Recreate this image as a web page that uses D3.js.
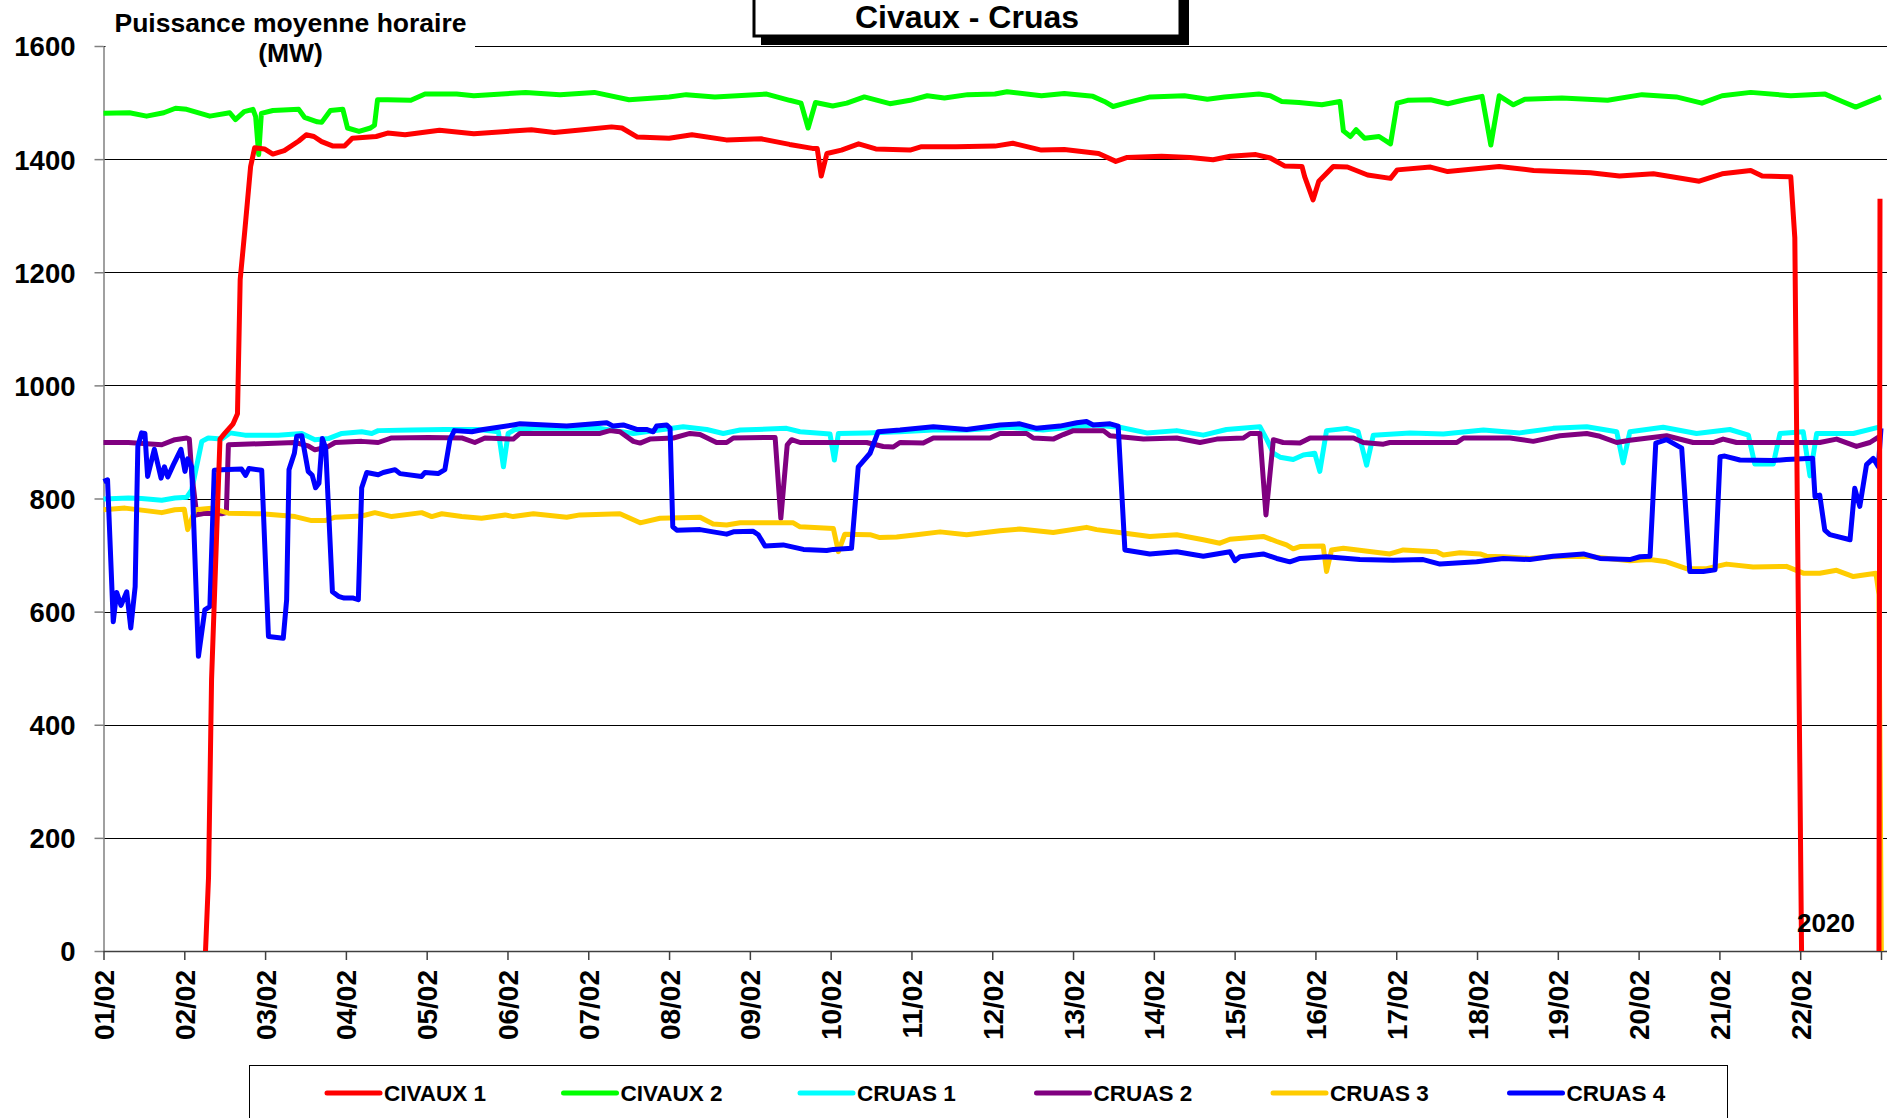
<!DOCTYPE html>
<html>
<head>
<meta charset="utf-8">
<script src="https://cdn.jsdelivr.net/npm/d3@7"></script>
<style>
  html, body { margin: 0; padding: 0; background: #fff; }
  svg { display: block; }
  text { font-family: "Liberation Sans", Arial, Helvetica, sans-serif; font-weight: bold; fill: #000; }
</style>
</head>
<body>
<svg id="chart" width="1887" height="1118"></svg>
<script>
// ---------------- DATA ----------------
const chartTitle = "Civaux - Cruas";
const yTitleLines = ["Puissance moyenne horaire", "(MW)"];
const yearLabel = "2020";
const dayLabels = ["01/02","02/02","03/02","04/02","05/02","06/02","07/02","08/02","09/02","10/02","11/02",
                   "12/02","13/02","14/02","15/02","16/02","17/02","18/02","19/02","20/02","21/02","22/02"];
const yTicks = [0, 200, 400, 600, 800, 1000, 1200, 1400, 1600];
const seriesNames = ["CIVAUX 1", "CIVAUX 2", "CRUAS 1", "CRUAS 2", "CRUAS 3", "CRUAS 4"];
const seriesColors = ["#FF0000", "#00FF00", "#00FFFF", "#800080", "#FFCC00", "#0000FF"];

// [hour since 01/02 00:00, MW]  (null = no data)
const civaux1 = [[30.3,0],[31.2,130],[32.1,480],[34.6,905],[36,915],[38.5,932],[39.8,950],[40.6,1187],[42,1275],[43.7,1387],[44.9,1420],[47.8,1418],[50.3,1409],[53.7,1415],[58,1432],[60.2,1443],[62.5,1440],[64.8,1431],[68.2,1423],[71.6,1423],[73.9,1437],[81,1440],[84.4,1446],[89.6,1443],[99.8,1451],[110,1445],[127.1,1452],[133.9,1447],[142.4,1452],[150.9,1457],[154,1455],[158.6,1439],[168,1437],[174.8,1443],[185,1434],[195.3,1436],[203.8,1426],[210.6,1419],[212,1419],[213.2,1370],[214.9,1410],[219.2,1416],[224.3,1427],[229.4,1418],[239.6,1416],[243,1422],[253.2,1422],[264.8,1423],[270.1,1428],[278.6,1416],[285.4,1417],[295.6,1410],[300.7,1396],[304.1,1403],[314.3,1405],[322.8,1403],[329.6,1399],[334.7,1405],[342.3,1408],[346.6,1402],[350.8,1388],[356,1387],[356.8,1369],[359.3,1328],[361,1361],[365.3,1387],[369.5,1386],[375.5,1372],[382.3,1366],[384.3,1381],[394.2,1386],[399.3,1378],[414.6,1387],[424.8,1380],[441.7,1376],[450.3,1370],[460.4,1374],[474,1361],[480.8,1374],[489.3,1380],[492.7,1370],[501.2,1369],[502.4,1261],[504.4,0],[515,null],[527.4,0],[527.7,1330]];
const civaux2 = [[0,1481],[7.7,1482],[12.8,1476],[17.9,1482],[21.4,1490],[24.7,1488],[31.6,1476],[37.5,1482],[39.2,1470],[41.8,1484],[44.4,1488],[45.2,1475],[46.1,1408],[46.9,1481],[50.3,1486],[58,1488],[59.7,1474],[63.5,1466],[64.8,1465],[67.4,1486],[71.1,1488],[72.5,1455],[75.9,1449],[79.3,1455],[80.5,1460],[81.4,1505],[84.4,1505],[91.3,1504],[95.5,1515],[104.9,1515],[110,1512],[125.4,1518],[135.6,1514],[145.8,1518],[156.1,1505],[168,1510],[173.1,1514],[181.6,1510],[197,1515],[203.8,1504],[207.2,1499],[209.3,1455],[211.5,1500],[216.6,1494],[220.8,1499],[226,1510],[233.6,1498],[239.6,1504],[244.7,1512],[249.8,1508],[256.7,1514],[264.8,1515],[268.4,1519],[278.6,1512],[285.4,1516],[293.9,1511],[297.3,1502],[299.9,1493],[304.1,1500],[310.9,1510],[321.1,1512],[327.9,1506],[333,1510],[343.2,1515],[346.6,1512],[350,1502],[355.1,1500],[361.9,1496],[367.3,1502],[368.3,1450],[370.4,1440],[372.1,1452],[374.6,1437],[378.9,1440],[382.3,1427],[384.3,1499],[387.4,1504],[394.2,1505],[399.3,1498],[404.4,1505],[409.5,1511],[412.1,1425],[414.6,1512],[418.8,1496],[422.2,1506],[433.2,1508],[446.8,1504],[457,1514],[467.2,1510],[474.8,1499],[480.8,1512],[489.3,1518],[501.2,1512],[511.4,1515],[516.5,1502],[520.5,1492],[524.7,1502],[528,1510]];
const cruas1 = [[0,799],[7.4,801],[11.3,800],[17.3,797],[21.2,801],[24.7,802],[26.2,815],[29.2,901],[31.1,907],[35.1,905],[37.6,916],[42,912],[51.9,912],[58.9,915],[62.8,904],[66.8,906],[70.8,915],[76.7,918],[79.7,915],[81.6,920],[91.5,921],[101.4,922],[111.3,922],[117.3,918],[118.8,856],[120.2,915],[122.2,922],[127.7,924],[147.5,924],[157.4,915],[172.2,927],[179.2,922],[184.1,915],[189.1,921],[202.9,924],[206.9,918],[215.8,914],[217.1,868],[218.3,915],[226.7,916],[236.6,918],[246.5,921],[256.4,921],[269.3,926],[279.1,921],[294,930],[301.9,926],[309.9,916],[318.8,920],[326.7,912],[333.6,922],[343.5,927],[345.5,905],[347.5,880],[349.5,873],[353.4,869],[356.4,877],[359.8,880],[361.3,848],[363.3,920],[369.3,924],[372.7,918],[375.2,859],[377.2,912],[388.1,916],[398,914],[409.9,921],[420.7,916],[430.6,924],[440.6,927],[449.5,918],[451.4,863],[453.4,918],[463.3,926],[473.2,915],[483.1,922],[488.6,912],[490.5,861],[496,861],[498,915],[504.9,918],[506.9,840],[508.9,915],[519.8,915],[528,927]];
const cruas2 = [[0,899],[7.4,899],[17.3,895],[21.2,904],[24.7,907],[25.5,905],[26.2,845],[27.7,771],[30.1,774],[35.1,773],[36.5,775],[37.1,895],[56.9,899],[60.8,893],[62.8,886],[66.8,892],[68.8,899],[76.7,901],[81.6,899],[85.6,907],[96.5,908],[106.4,907],[110.3,899],[113.3,907],[121.7,905],[123.7,915],[147.5,915],[150.4,920],[153.4,918],[157.4,901],[159.4,898],[162.3,905],[169.3,907],[174.2,915],[177.2,913],[182.1,899],[185.1,899],[187.1,907],[199.5,908],[201.2,765],[203.1,895],[204.4,904],[206.9,899],[226.7,899],[231.6,892],[234.6,891],[236.6,899],[243.5,898],[246.5,907],[263.3,907],[266.3,915],[274.2,915],[276.2,907],[282.1,905],[285.1,913],[288.1,920],[297,920],[299,911],[308.9,905],[318.8,907],[325.7,899],[330.7,905],[338.6,907],[340.6,915],[343.5,915],[345.3,771],[347.5,904],[350.4,899],[355.4,898],[358.4,907],[371.3,907],[374.2,899],[380.2,896],[382.1,899],[402,899],[404,907],[417.8,907],[424.7,901],[432.6,911],[440.6,915],[444.5,910],[449.5,899],[453.4,903],[464.3,911],[472.2,899],[478.2,899],[481.1,905],[485.1,899],[509.8,899],[514.8,905],[520.7,892],[524.7,899],[527.6,910]];
const cruas3 = [[0,780],[6.4,783],[17.3,775],[21.2,780],[24,781],[25,745],[27.2,780],[32.1,783],[37.1,774],[47,773],[56.9,768],[61.8,761],[65.8,761],[68.8,767],[76.7,769],[80.6,775],[85.6,768],[94.5,775],[97.5,768],[100.5,773],[106.4,768],[112.3,765],[119.3,771],[121.7,768],[127.7,773],[137.6,767],[141.5,771],[153.4,773],[159.4,757],[165.3,765],[177.2,767],[181.1,755],[185.1,753],[189.1,757],[204.9,757],[206.9,750],[216.8,747],[218.3,706],[220.2,737],[227.7,736],[230.6,731],[235.6,732],[241.5,736],[248.5,741],[256.4,736],[266.3,743],[272.2,746],[282.1,740],[292,749],[295,745],[302.9,739],[310.8,733],[318.8,736],[326.7,727],[331.6,721],[334.6,728],[344.5,733],[348.5,724],[351.4,718],[353.4,711],[355.4,715],[362.3,716],[363.3,671],[364.8,709],[368.3,712],[382.1,702],[386.1,709],[396,706],[398,700],[402.9,704],[408.9,702],[410.8,698],[415.8,697],[423.7,694],[430.6,697],[440.6,698],[453.4,690],[459.4,692],[464.3,688],[470.2,676],[476.2,676],[482.1,684],[490,679],[499.9,680],[504.9,668],[509.8,668],[514.8,673],[519.8,662],[526.5,668],[527.4,630],[528.1,0]];
const cruas4 = [[0,830],[1.2,833],[2.9,582],[3.9,634],[5.2,611],[6.9,635],[8.1,571],[9.4,644],[10.2,892],[11.3,916],[12.3,915],[13.1,839],[15.1,887],[17.1,836],[18.1,856],[19.1,838],[20.7,859],[23,887],[24.2,848],[25,870],[26.2,856],[28.2,521],[30.1,603],[31.6,609],[32.9,850],[35.1,851],[41,852],[42.2,841],[43.2,853],[47,850],[49,556],[53.4,553],[54.4,621],[55.1,851],[56.7,880],[57.4,910],[58.9,911],[60.8,848],[62,841],[63,819],[64,827],[65,906],[66,889],[68,635],[69.8,627],[71.5,624],[74.2,624],[75.7,621],[76.7,819],[78.2,846],[81.6,842],[83.1,846],[86.6,851],[88.1,844],[94.5,839],[95.5,846],[99.4,844],[101.4,851],[102.9,904],[104.2,920],[109.4,918],[112.8,922],[116.3,925],[121.7,930],[123.7,932],[137.6,928],[149.5,934],[151.4,928],[154.4,930],[158.4,922],[161.3,922],[163.3,918],[164.3,928],[167.3,930],[168.3,924],[169.1,750],[170.3,744],[177.2,745],[181.1,741],[185.1,737],[187.1,741],[193,742],[194.5,736],[196.5,716],[201.9,718],[207.9,710],[214.8,708],[216.8,710],[222.2,712],[224.2,856],[227.7,880],[230.1,918],[236.6,921],[246.5,927],[256.4,922],[266.3,930],[272.2,932],[277.2,924],[284.1,928],[289.1,934],[292,936],[294,930],[299,932],[301.4,928],[303.4,709],[310.8,702],[318.8,706],[326.7,698],[334.6,706],[336.1,690],[337.6,697],[344.5,702],[348.5,694],[352.4,688],[355.4,694],[363.3,697],[373.2,692],[383.1,691],[392,692],[397,684],[407.9,688],[415.8,694],[423.7,692],[430.6,698],[439.6,702],[444.5,694],[453.4,692],[456.4,697],[459.4,698],[461.1,898],[464.3,904],[468.8,889],[471.2,671],[475.2,671],[478.7,674],[480.2,874],[481.6,875],[486.1,868],[496,867],[499.9,869],[507.7,871],[508.4,803],[509.8,806],[511.3,744],[512.8,736],[518.8,727],[520.2,818],[521.7,786],[523.7,860],[525.7,871],[527.2,856],[528,924]];

const seriesData = [civaux1, civaux2, cruas1, cruas2, cruas3, cruas4];
const drawOrder = [2, 3, 4, 5, 1, 0]; // bottom to top

// ---------------- CHART ----------------
const svg = d3.select("#chart");
const W = 1887, H = 1118;
const plot = { left: 103.5, right: 1881, top: 46, bottom: 951, edge: 1887 };

const x = d3.scaleLinear().domain([0, 528]).range([plot.left, plot.right]);
const y = d3.scaleLinear().domain([0, 1600]).range([plot.bottom, plot.top]);

svg.append("rect").attr("width", W).attr("height", H).attr("fill", "#fff");

// gridlines
const grid = svg.append("g").attr("class", "grid");
grid.selectAll("line").data(yTicks.filter(v => v > 0)).join("line")
  .attr("x1", plot.left).attr("x2", plot.edge)
  .attr("y1", d => Math.round(y(d)) + 0.5).attr("y2", d => Math.round(y(d)) + 0.5)
  .attr("stroke", "#000").attr("stroke-width", 1);

// y-axis
const yAxis = d3.axisLeft(y).tickValues(yTicks).tickSize(9).tickSizeOuter(0).tickPadding(19)
  .tickFormat(d3.format("d"));
const gy = svg.append("g").attr("transform", `translate(${plot.left},0)`).call(yAxis);
gy.select(".domain").attr("stroke", "#808080").attr("stroke-width", 1.5);
gy.selectAll(".tick line").attr("stroke", "#808080").attr("stroke-width", 1.5);
gy.selectAll(".tick text").style("font-size", "27.5px").attr("dy", "0.36em");

// x-axis
const xTickVals = d3.range(0, 529, 24);
const xAxis = d3.axisBottom(x).tickValues(xTickVals).tickSize(9).tickSizeOuter(0)
  .tickFormat((d, i) => dayLabels[i] || "");
const gx = svg.append("g").attr("transform", `translate(0,${plot.bottom})`).call(xAxis);
gx.select(".domain").attr("d", `M${plot.left},0.5H${plot.edge}`).attr("stroke", "#404040").attr("stroke-width", 1.5);
gx.selectAll(".tick line").attr("stroke", "#404040").attr("stroke-width", 1.5);
gx.selectAll(".tick text")
  .style("font-size", "28px")
  .attr("text-anchor", "end")
  .attr("transform", "translate(0,19) rotate(-90)")
  .attr("x", 0).attr("y", 0).attr("dy", "0.36em");

// y-axis title (white background masks the top gridline)
svg.append("rect").attr("x", plot.left + 2).attr("y", 0).attr("width", 475 - plot.left - 2).attr("height", 68).attr("fill", "#fff");
svg.append("text").attr("x", 290.5).attr("text-anchor", "middle").style("font-size", "26.5px")
  .selectAll("tspan").data(yTitleLines).join("tspan")
  .attr("x", 290.5).attr("y", (d, i) => 31.5 + i * 30).text(d => d);

// lines
const line = d3.line().defined(d => d[1] !== null).x(d => x(d[0])).y(d => y(d[1]));
const lines = svg.append("g").attr("class", "series");
drawOrder.forEach(i => {
  lines.append("path").datum(seriesData[i])
    .attr("d", line)
    .attr("fill", "none")
    .attr("stroke", seriesColors[i])
    .attr("stroke-width", 5)
    .attr("stroke-linejoin", "round")
    .attr("stroke-linecap", "butt");
});

// year label
svg.append("text").attr("x", 1797).attr("y", 932).style("font-size", "26px").text(yearLabel);

// title box
svg.append("rect").attr("x", 761).attr("y", -20).attr("width", 428).attr("height", 65).attr("fill", "#000");
svg.append("rect").attr("x", 754).attr("y", -20).attr("width", 426).attr("height", 56)
  .attr("fill", "#fff").attr("stroke", "#000").attr("stroke-width", 3);
svg.append("text").attr("x", 967).attr("y", 28).attr("text-anchor", "middle").style("font-size", "32px").text(chartTitle);

// legend
const lg = svg.append("g").attr("class", "legend");
lg.append("rect").attr("x", 249.5).attr("y", 1065.5).attr("width", 1478).attr("height", 100)
  .attr("fill", "#fff").attr("stroke", "#000").attr("stroke-width", 1);
const items = lg.selectAll("g.item").data(seriesNames).join("g").attr("class", "item")
  .attr("transform", (d, i) => `translate(${327 + i * 236.5},1093)`);
items.append("line").attr("x1", 0).attr("x2", 53).attr("y1", 0).attr("y2", 0)
  .attr("stroke", (d, i) => seriesColors[i]).attr("stroke-width", 5).attr("stroke-linecap", "round");
items.append("text").attr("x", 57).attr("y", 0).attr("dy", "0.36em").style("font-size", "22.5px").text(d => d);
</script>
</body>
</html>
